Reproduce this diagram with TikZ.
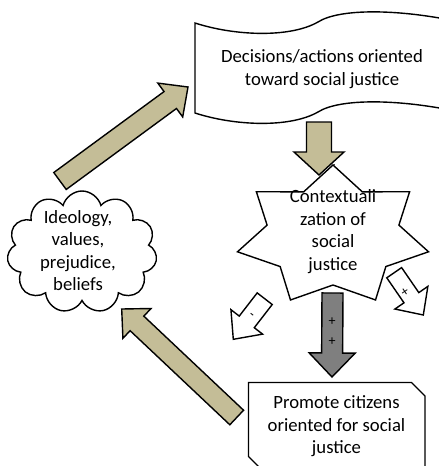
\documentclass[tikz,border=0pt]{standalone}
\usepackage{fontspec}
\setmainfont{Carlito}
\usepackage{tikz}
\usetikzlibrary{positioning,shapes,calc}

\definecolor{olivetan}{RGB}{196,189,151}
\definecolor{arrowgray}{RGB}{127,127,127}

% block arrow: [style]{tail}{tip}{half shaft}{half head}{head length}
\newcommand{\fatarrow}[6][]{%
  \coordinate (neck) at ($(#3)!#6!(#2)$);
  \draw[outline, #1] ($(#2)!#4!90:(#3)$) -- ($(neck)!#4!90:(#3)$)
    -- ($(neck)!#5!90:(#3)$) -- (#3) -- ($(neck)!#5!-90:(#3)$)
    -- ($(neck)!#4!-90:(#3)$) -- ($(#2)!#4!-90:(#3)$) -- cycle;
}

\begin{document}
\begin{tikzpicture}[x=1pt, y=-1pt,
  outline/.style={draw=black, line width=1.4pt},
  txt/.style={align=center, font=\fontsize{18.7}{22.5}\selectfont},
  sign/.style={font=\fontsize{14}{20}\selectfont, inner sep=0pt}]
  \clip (0,0) rectangle (439,466);

  % banner with wavy top and bottom
  \draw[outline, fill=white] (195,23) .. controls (235,36) and (290,38) .. (318,22)
    .. controls (340,8) and (400,9) .. (460,22) -- (460,112)
    .. controls (400,99) and (340,98) .. (318,112)
    .. controls (290,128) and (235,126) .. (195,113) -- cycle;
  \node[txt] (decide) at (322,69) {Decisions/actions oriented\\toward social justice};

  % seven pointed star
  \draw[outline, fill=white, shift={(333,236)}] (-90:98 and 71)
    \foreach \i in {1,...,7} {-- ({-64.29-51.43*\i}:67.6 and 49) -- ({-90-51.43*\i}:98 and 71)} -- cycle;
  \node[txt] (context) at (333,231.5) {Contextuali\\zation of\\social\\justice};

  % box with two snipped corners
  \draw[outline, fill=white] (248.5,382.5) -- (411.5,382.5) -- (425,396) -- (425,470)
    -- (262,470) -- (248.5,456.5) -- cycle;
  \node[txt] (promote) at (336.5,426.5) {Promote citizens\\oriented for social\\justice};

  % cloud
  \node[cloud, cloud puffs=11, outline, fill=white, minimum width=150pt, minimum height=122pt] (ideo) at (82,252) {};
  \node[txt] (ideotext) at (78,250.5) {Ideology,\\values,\\prejudice,\\beliefs};

  % arrow ends
  \coordinate (ideo-out) at (60,181);
  \coordinate (decide-in) at (188,87);
  \coordinate (decide-out) at (319,122);
  \coordinate (context-in) at (319,175);
  \coordinate (context-out) at (332.5,293);
  \coordinate (promote-in) at (332,377);
  \coordinate (minus-tail) at (264.7,298.7);
  \coordinate (minus-tip) at (233.3,339.3);
  \coordinate (plus-tail) at (394.2,272.7);
  \coordinate (plus-tip) at (423.3,315);
  \coordinate (promote-out) at (236.7,417.5);
  \coordinate (ideo-in) at (121.7,309);

  \fatarrow[fill=olivetan]{ideo-out}{decide-in}{10.5pt}{21pt}{22pt}
  \fatarrow[fill=olivetan]{decide-out}{context-in}{12.5pt}{25pt}{23pt}
  \fatarrow[fill=arrowgray]{context-out}{promote-in}{10.5pt}{23pt}{24pt}
  \fatarrow[fill=white]{minus-tail}{minus-tip}{9.5pt}{20pt}{22pt}
  \fatarrow[fill=white]{plus-tail}{plus-tip}{9pt}{20pt}{21pt}
  \fatarrow[fill=olivetan]{promote-out}{ideo-in}{10pt}{20.5pt}{21pt}

  \node[sign, align=center] (plusplus) at (332,332) {+\\+};
  \node[sign, rotate=-38] (minus) at (251,316) {-};
  \node[sign, rotate=34] (plus) at (405,292) {+};
\end{tikzpicture}
\end{document}
